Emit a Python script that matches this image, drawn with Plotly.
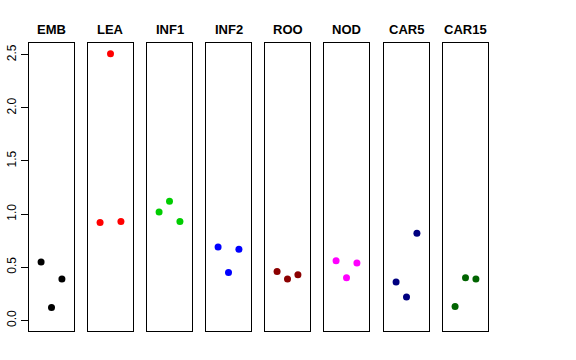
import plotly.graph_objects as go

categories = ["EMB", "LEA", "INF1", "INF2", "ROO", "NOD", "CAR5", "CAR15"]
colors = ["#000000", "#FF0000", "#00CD00", "#0000FF", "#8B0000", "#FF00FF", "#000080", "#006400"]
rep_positions = [1, 2, 3]
values = {
    "EMB":   [0.55, 0.12, 0.39],
    "LEA":   [0.92, 2.51, 0.93],
    "INF1":  [1.02, 1.12, 0.93],
    "INF2":  [0.69, 0.45, 0.67],
    "ROO":   [0.46, 0.39, 0.43],
    "NOD":   [0.56, 0.40, 0.54],
    "CAR5":  [0.36, 0.22, 0.82],
    "CAR15": [0.13, 0.40, 0.39],
}
y_ticks = [0.0, 0.5, 1.0, 1.5, 2.0, 2.5]

W, H = 576, 360
panel_left = [29, 88, 147, 206, 265, 324, 384, 443]
panel_w = 45
y_top, y_bot = 43, 331

fig = go.Figure()
layout = dict(
    width=W, height=H, margin=dict(l=0, r=0, t=0, b=0, autoexpand=False),
    plot_bgcolor="white", paper_bgcolor="white", showlegend=False,
    font=dict(family="Liberation Sans, Arial, sans-serif", color="black"),
)
annotations = []
for i, cat in enumerate(categories):
    n = "" if i == 0 else str(i + 1)
    x0 = panel_left[i] / W
    x1 = (panel_left[i] + panel_w) / W
    fig.add_trace(go.Scatter(
        x=rep_positions, y=values[cat], mode="markers",
        marker=dict(color=colors[i], size=7),
        xaxis="x" + n, yaxis="y" + n, hoverinfo="skip",
    ))
    layout["xaxis" + n] = dict(
        domain=[x0, x1], range=[-0.16, 4.16], showgrid=False, zeroline=False,
        showticklabels=False, ticks="", showline=True, mirror=True,
        linecolor="black", linewidth=1, anchor="y" + n, fixedrange=True,
        automargin=False,
    )
    ya = dict(
        domain=[(H - y_bot) / H, (H - y_top) / H], range=[-0.1004, 2.6104],
        showgrid=False, zeroline=False, showline=True, mirror=True,
        linecolor="black", linewidth=1, anchor="x" + n, fixedrange=True,
        automargin=False,
    )
    if i == 0:
        ya.update(tickvals=y_ticks, ticktext=["%.1f" % v for v in y_ticks],
                  ticks="outside", ticklen=7, tickcolor="black",
                  tickangle=-90, tickfont=dict(size=12, color="black"))
    else:
        ya.update(showticklabels=False, ticks="")
    layout["yaxis" + n] = ya
    annotations.append(dict(
        text="<b>%s</b>" % cat, x=(x0 + x1) / 2, y=(H - 29) / H,
        xref="paper", yref="paper", showarrow=False,
        xanchor="center", yanchor="middle", font=dict(size=13, color="black"),
    ))
layout["annotations"] = annotations
fig.update_layout(**layout)
fig.write_html("out.html", config={"displayModeBar": False},
               post_script="document.body.style.margin='0px';")
